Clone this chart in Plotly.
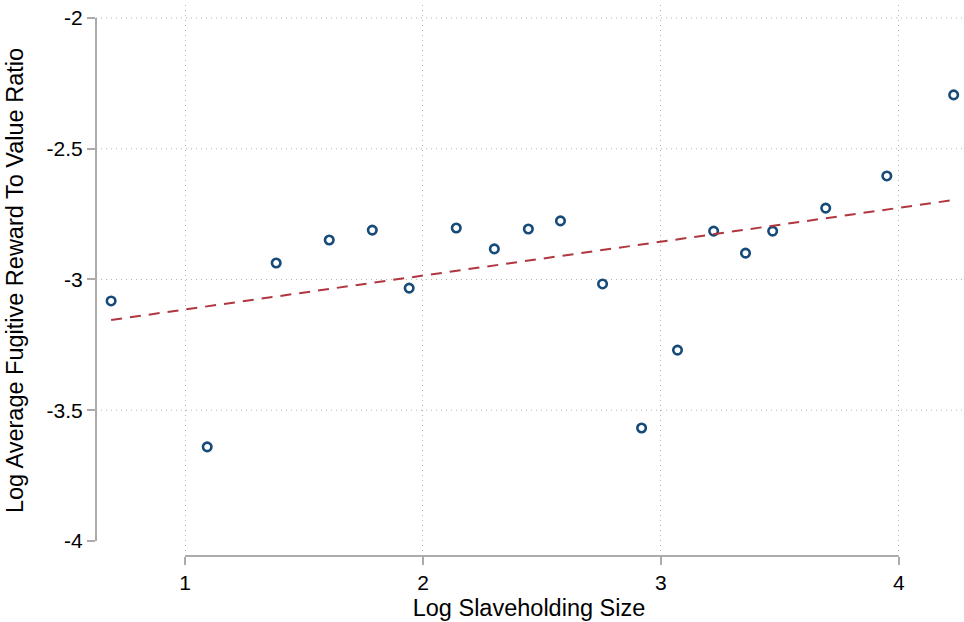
import plotly.graph_objects as go

# Data
log_size = [0.689, 1.093, 1.383, 1.606, 1.787, 1.942, 2.140, 2.300, 2.443, 2.578,
            2.755, 2.919, 3.070, 3.222, 3.356, 3.470, 3.693, 3.950, 4.231]
log_ratio = [-3.082, -3.640, -2.937, -2.849, -2.811, -3.033, -2.803, -2.883, -2.807, -2.776,
             -3.017, -3.568, -3.270, -2.815, -2.899, -2.815, -2.727, -2.604, -2.294]
fit_x = [0.689, 4.231]
fit_y = [-3.155, -2.696]

x_ticks = [1, 2, 3, 4]
y_ticks = [-4, -3.5, -3, -2.5, -2]
y_tick_text = ["-4", "-3.5", "-3", "-2.5", "-2"]
y_grid = [-3.5, -3, -2.5, -2]

AXIS_COLOR = "#ababab"
GRID_COLOR = "#b4b4b4"
FONT = "Liberation Sans, Arial, sans-serif"
DOTS = "1px,4px"
TICK_SIZE = 21

fig = go.Figure()
fig.add_trace(go.Scatter(
    x=log_size, y=log_ratio, mode="markers",
    marker=dict(symbol="circle-open", size=8.5, color="#164a78",
                line=dict(width=2.6, color="#164a78")),
    showlegend=False, hoverinfo="skip", cliponaxis=False))
fig.add_trace(go.Scatter(
    x=fit_x, y=fit_y, mode="lines",
    line=dict(color="#b0363f", width=2, dash="11px,8px"),
    showlegend=False, hoverinfo="skip"))

shapes = []
# horizontal dotted gridlines (none at the axis minimum)
for g in y_grid:
    shapes.append(dict(type="line", xref="paper", x0=0, x1=1, yref="y", y0=g, y1=g,
                       line=dict(color=GRID_COLOR, width=1, dash=DOTS), layer="below"))
# Stata-style axis lines spanning first to last tick
shapes.append(dict(type="line", xref="paper", x0=0, x1=0, yref="y",
                   y0=min(y_ticks), y1=max(y_ticks),
                   line=dict(color=AXIS_COLOR, width=2)))
shapes.append(dict(type="line", yref="paper", y0=0, y1=0, xref="x",
                   x0=min(x_ticks), x1=max(x_ticks),
                   line=dict(color=AXIS_COLOR, width=2)))

fig.update_layout(
    width=964, height=622,
    margin=dict(l=96, r=2, t=5, b=66, autoexpand=False),
    paper_bgcolor="white", plot_bgcolor="white",
    font=dict(family=FONT, color="black", size=TICK_SIZE),
    shapes=shapes,
)
fig.update_xaxes(range=[0.6255, 4.266], tickmode="array", tickvals=x_ticks,
                 ticktext=[str(v) for v in x_ticks], automargin=False,
                 showline=False, zeroline=False,
                 showgrid=True, gridcolor=GRID_COLOR, griddash=DOTS, gridwidth=1,
                 ticks="outside", ticklen=8, tickwidth=2, tickcolor=AXIS_COLOR,
                 tickfont_size=TICK_SIZE, tickfont_family=FONT, tickfont_color="black",
                 title_text="Log Slaveholding Size", title_font_size=23.5, title_standoff=6)
fig.update_yaxes(range=[-4.0575, -1.9502], tickmode="array", tickvals=y_ticks,
                 ticktext=y_tick_text, automargin=False,
                 showline=False, zeroline=False, showgrid=False,
                 ticks="outside", ticklen=8, tickwidth=2, tickcolor=AXIS_COLOR,
                 tickfont_size=TICK_SIZE, tickfont_family=FONT, tickfont_color="black",
                 title_text="Log Average Fugitive Reward To Value Ratio",
                 title_font_size=23.5, title_standoff=16)

fig.write_html("out.html",
               config={"displayModeBar": False},
               post_script="document.body.style.margin='0';document.body.style.overflow='hidden';")
